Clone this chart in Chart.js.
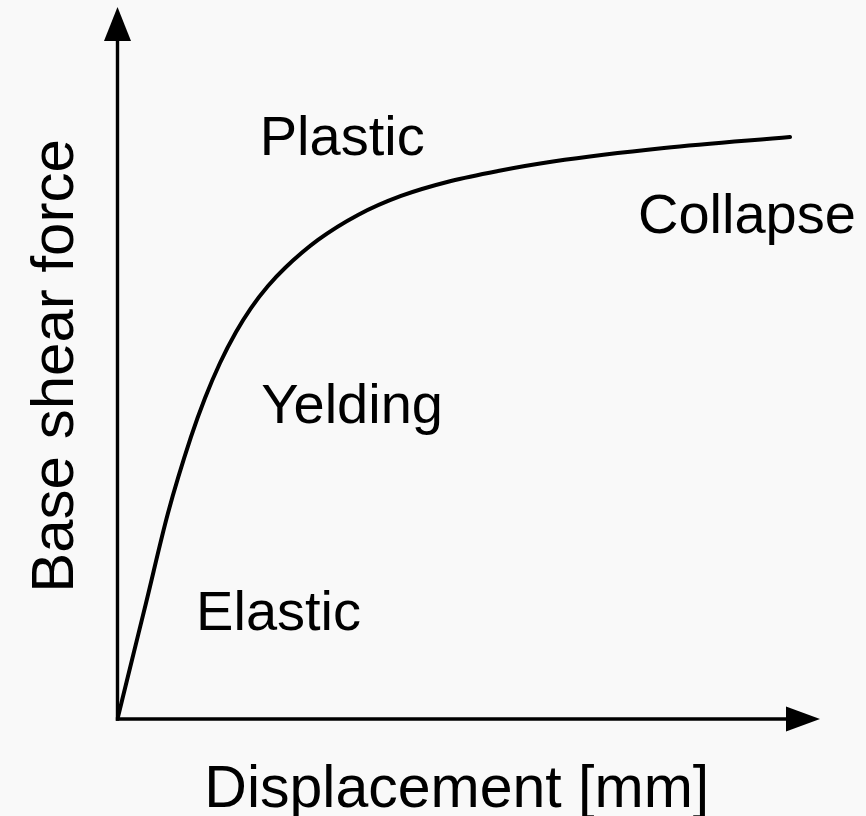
<!DOCTYPE html>
<html>
<head>
<meta charset="utf-8">
<title>Base shear force vs displacement</title>
<script src="https://cdn.jsdelivr.net/npm/chart.js@4/dist/chart.umd.min.js"></script>
<style>
  html, body { margin: 0; padding: 0; background: #f9f9f9; }
  #wrap { width: 866px; height: 816px; }
</style>
</head>
<body>
<div id="wrap"><canvas id="c" width="866" height="816"></canvas></div>
<script>
// Pushover (capacity) curve, displacement vs base shear, in relative units
const displacement = [0, 2.06, 4.06, 7.19, 10.46, 12.46, 14.59, 16.87, 19.00, 21.42, 23.84, 28.54, 34.23, 40.36, 47.47, 54.16, 61.99, 77.79, 95.73];
const baseShear    = [0, 8.29, 16.29, 28.93, 39.61, 45.08, 50.00, 54.35, 57.72, 60.81, 63.34, 67.28, 70.79, 73.46, 75.56, 76.97, 78.30, 80.20, 81.74];

// Stage names written inside the plot
const stageNames = ['Elastic', 'Yelding', 'Plastic', 'Collapse'];
// Where each stage name sits (centre x, baseline y) in axis units
const stageAnchorX = [22.93, 33.40, 31.98, 89.60];
const stageAnchorY = [12.50, 41.57, 79.21, 68.26];

const xTitle = 'Displacement [mm]';
const yTitle = 'Base shear force';

const FONT = '"Liberation Sans", Arial, Helvetica, sans-serif';

const points = displacement.map((d, i) => ({ x: d, y: baseShear[i] }));

// Arrowed axes, stage names and axis titles
const decorations = {
  id: 'decorations',
  afterDatasetsDraw(chart) {
    const { ctx, chartArea, scales } = chart;
    const xs = scales.x, ys = scales.y;
    const x0 = xs.getPixelForValue(0);
    const y0 = ys.getPixelForValue(0);
    const top = chartArea.top;
    const right = chartArea.right;

    ctx.save();
    ctx.strokeStyle = '#000';
    ctx.fillStyle = '#000';
    ctx.lineWidth = 3.4;
    ctx.lineCap = 'butt';

    // vertical axis
    ctx.beginPath();
    ctx.moveTo(x0, y0 + 1.7);
    ctx.lineTo(x0, top + 30);
    ctx.stroke();
    ctx.beginPath();
    ctx.moveTo(x0, top);
    ctx.lineTo(x0 - 13.5, top + 34);
    ctx.lineTo(x0 + 13.5, top + 34);
    ctx.closePath();
    ctx.fill();

    // horizontal axis
    ctx.beginPath();
    ctx.moveTo(x0 - 1.7, y0);
    ctx.lineTo(right - 30, y0);
    ctx.stroke();
    ctx.beginPath();
    ctx.moveTo(right, y0);
    ctx.lineTo(right - 34, y0 - 12.5);
    ctx.lineTo(right - 34, y0 + 12.5);
    ctx.closePath();
    ctx.fill();

    // stage names
    ctx.font = '56px ' + FONT;
    ctx.textAlign = 'center';
    ctx.textBaseline = 'alphabetic';
    stageNames.forEach((name, i) => {
      ctx.fillText(name, xs.getPixelForValue(stageAnchorX[i]), ys.getPixelForValue(stageAnchorY[i]));
    });

    // axis titles
    ctx.font = '59px ' + FONT;
    ctx.fillText(xTitle, (x0 + right) / 2 - 12, y0 + 88);

    ctx.save();
    ctx.font = '60px ' + FONT;
    ctx.translate(x0 - 45, (top + y0) / 2 + 3);
    ctx.rotate(-Math.PI / 2);
    ctx.fillText(yTitle, 0, 0);
    ctx.restore();

    ctx.restore();
  }
};

new Chart(document.getElementById('c'), {
  type: 'scatter',
  data: {
    datasets: [{
      data: points,
      showLine: true,
      borderColor: '#000',
      borderWidth: 4,
      borderCapStyle: 'round',
      borderJoinStyle: 'round',
      pointRadius: 0,
      fill: false,
      cubicInterpolationMode: 'monotone'
    }]
  },
  options: {
    responsive: false,
    animation: false,
    events: [],
    layout: { padding: { left: 117.5, right: 46, top: 7, bottom: 97 } },
    plugins: { legend: { display: false }, tooltip: { enabled: false } },
    scales: {
      x: { type: 'linear', min: 0, max: 100, display: false },
      y: { type: 'linear', min: 0, max: 100, display: false }
    }
  },
  plugins: [decorations]
});
</script>
</body>
</html>
